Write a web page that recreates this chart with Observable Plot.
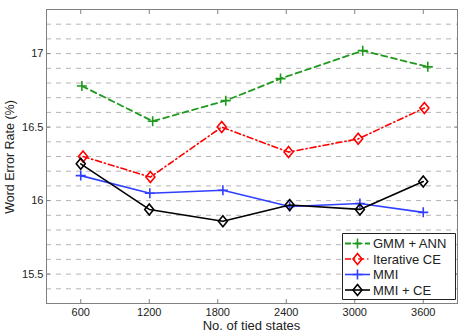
<!DOCTYPE html>
<html><head><meta charset="utf-8">
<script src="https://cdn.jsdelivr.net/npm/d3@7"></script>
<script src="https://cdn.jsdelivr.net/npm/@observablehq/plot@0.6"></script>
<style>body{margin:0;background:#fff} svg{display:block}</style>
</head><body><div id="chart"></div>
<script>
// ---- data ----
const seriesNames = ["GMM + ANN", "Iterative CE", "MMI", "MMI + CE"];
const gmmX = [610, 1230, 1870, 2350, 3070, 3640];
const gmmY = [16.78, 16.54, 16.68, 16.83, 17.02, 16.91];
const iceX = [620, 1210, 1835, 2420, 3030, 3610];
const iceY = [16.30, 16.16, 16.50, 16.33, 16.42, 16.63];
const mmiX = [600, 1205, 1845, 2430, 3045, 3600];
const mmiY = [16.17, 16.05, 16.07, 15.96, 15.98, 15.92];
const mceX = [600, 1200, 1845, 2430, 3045, 3600];
const mceY = [16.25, 15.94, 15.86, 15.97, 15.94, 16.13];
const xTicks = [600, 1200, 1800, 2400, 3000, 3600];
const yTicks = [15.5, 16, 16.5, 17];
const yGrid = [15.4, 15.5, 15.6, 15.7, 15.8, 15.9, 16.0, 16.1, 16.2, 16.3, 16.4, 16.5, 16.6, 16.7, 16.8, 16.9, 17.0, 17.1, 17.2];
const xLabel = "No. of tied states";
const yLabel = "Word Error Rate (%)";

// ---- styles ----
const plusSym = {draw(ctx, size) { const r = Math.sqrt(size / Math.PI); ctx.moveTo(-r, 0); ctx.lineTo(r, 0); ctx.moveTo(0, -r); ctx.lineTo(0, r); }};
const diamondSym = {draw(ctx, size) { const r = Math.sqrt(size / Math.PI); const a = r * 0.9, b = r * 1.1; ctx.moveTo(0, -b); ctx.lineTo(a, 0); ctx.lineTo(0, b); ctx.lineTo(-a, 0); ctx.closePath(); }};
const styles = [
  {color: "#1f9a1f", dash: "6,4", sym: plusSym, width: 1.8},
  {color: "#ff0000", dash: "6,3,1.2,3", sym: diamondSym, width: 1.6},
  {color: "#3040ff", dash: null, sym: plusSym, width: 1.6},
  {color: "#000000", dash: null, sym: diamondSym, width: 1.6}
];
const xs = [gmmX, iceX, mmiX, mceX];
const ys = [gmmY, iceY, mmiY, mceY];
const series = seriesNames.map((name, s) => xs[s].map((x, i) => ({name, x, y: ys[s][i]})));
const fmt = d => String(d);

const marks = [
  Plot.gridY(yGrid, {stroke: "#b4b4b4", strokeOpacity: 1, strokeDasharray: "5,5"}),
  Plot.frame({stroke: "#808080"}),
  Plot.axisX({ticks: xTicks, tickSize: 0, tickPadding: 5, fontSize: 11, label: null, fill: "#222", tickFormat: fmt}),
  Plot.axisX({ticks: xTicks, tickSize: -4, tickFormat: () => "", label: null, stroke: "#808080"}),
  Plot.axisX({anchor: "top", ticks: xTicks, tickSize: -4, tickFormat: () => "", label: null, stroke: "#808080"}),
  Plot.axisY({ticks: yTicks, tickSize: 0, tickPadding: 3, fontSize: 11, label: null, fill: "#222", tickFormat: fmt}),
  Plot.axisY({ticks: yTicks, tickSize: -4, tickFormat: () => "", label: null, stroke: "#808080"}),
  Plot.axisY({anchor: "right", ticks: yTicks, tickSize: -4, tickFormat: () => "", label: null, stroke: "#808080"})
];
series.forEach((data, s) => {
  const st = styles[s];
  marks.push(Plot.line(data, {x: "x", y: "y", stroke: st.color, strokeWidth: st.width, strokeDasharray: st.dash}));
  marks.push(Plot.dot(data, {x: "x", y: "y", stroke: st.color, fill: "none", strokeWidth: 1.6, r: 5, symbol: st.sym}));
});

const chart = Plot.plot({
  width: 463, height: 336,
  marginLeft: 46, marginRight: 6, marginTop: 9, marginBottom: 33,
  style: {fontFamily: "'Liberation Sans', Arial, sans-serif", fontSize: "11px", background: "#fff"},
  x: {domain: [300, 3900], label: null},
  y: {domain: [15.3, 17.3], label: null},
  marks
});
document.getElementById("chart").appendChild(chart);

// ---- axis titles and legend ----
const svg = d3.select(chart);
const font = "'Liberation Sans', Arial, sans-serif";
svg.append("text").attr("x", 251.5).attr("y", 329.5).attr("text-anchor", "middle")
  .attr("font-family", font).attr("font-size", 13).attr("fill", "#222").text(xLabel);
svg.append("text").attr("transform", "translate(13.5,157) rotate(-90)").attr("text-anchor", "middle")
  .attr("font-family", font).attr("font-size", 12.5).attr("fill", "#222").text(yLabel);

const lg = svg.append("g");
lg.append("path").attr("d", "M342.5,233.5H455.5V299.5H342.5Z")
  .attr("style", "fill:#ffffff;stroke:#222222;stroke-width:1px");
seriesNames.forEach((name, s) => {
  const st = styles[s];
  const cy = 243.5 + s * 15.5;
  lg.append("line").attr("x1", 345).attr("x2", 370).attr("y1", cy).attr("y2", cy)
    .attr("stroke", st.color).attr("stroke-width", st.width).attr("stroke-dasharray", st.dash);
  const p = d3.path(); st.sym.draw(p, 25 * Math.PI);
  lg.append("path").attr("d", p.toString()).attr("transform", `translate(357.5,${cy})`)
    .attr("fill", "none").attr("stroke", st.color).attr("stroke-width", 1.6);
  lg.append("text").attr("x", 373).attr("y", cy).attr("dy", "0.35em").attr("text-anchor", "start")
    .attr("font-family", font).attr("font-size", 13).attr("fill", "#222").text(name);
});
</script>
</body></html>
